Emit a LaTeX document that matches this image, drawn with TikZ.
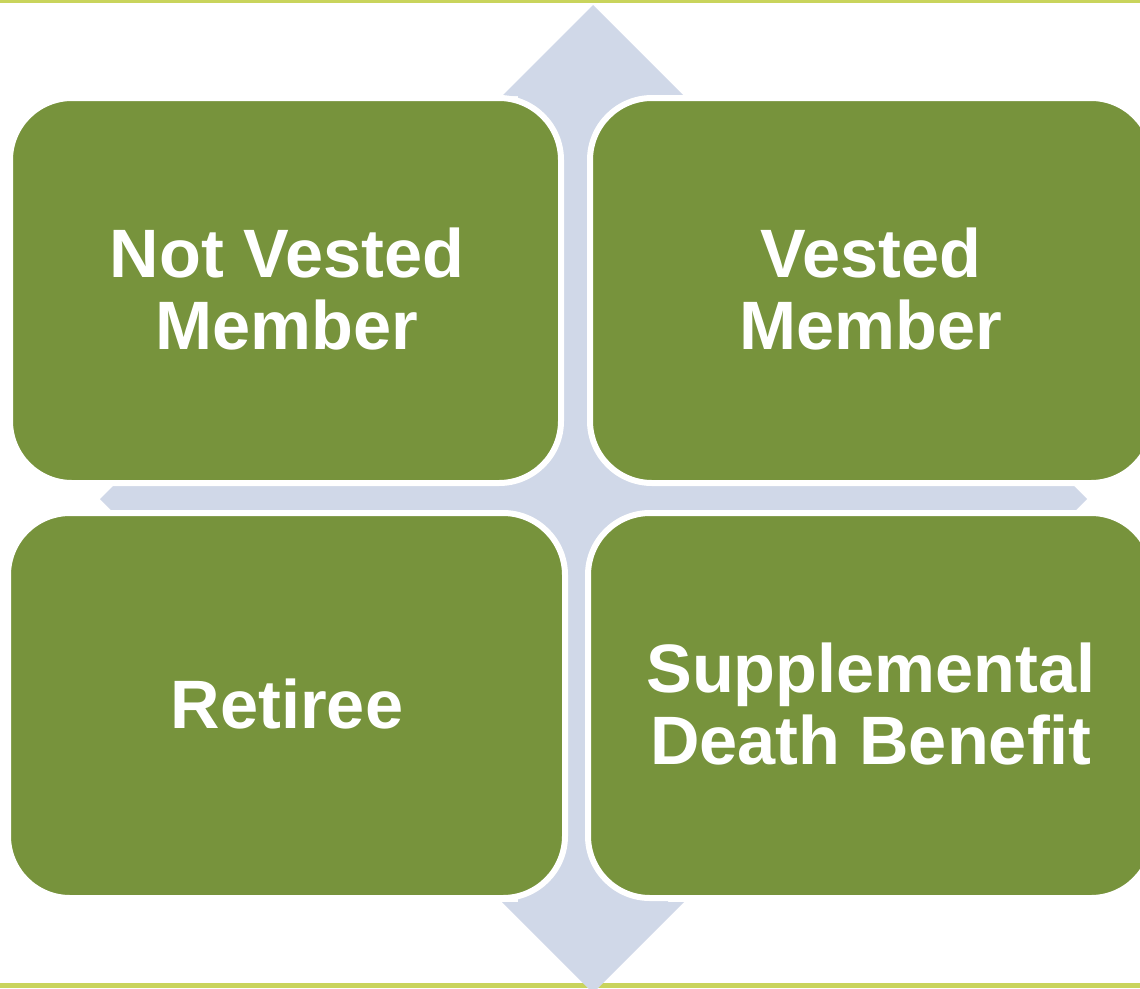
\documentclass[tikz,border=0pt]{standalone}
\usepackage{fontspec}
\setmainfont{Liberation Sans}
\definecolor{bandgreen}{HTML}{C9D45C}
\definecolor{arrowblue}{HTML}{D0D8E8}
\definecolor{boxgreen}{HTML}{77933C}
\begin{document}
\begin{tikzpicture}[x=1pt,y=-1pt,
  quadbox/.style={draw=white, line width=6pt, fill=boxgreen,
    rounded corners=62pt},
  boxlabel/.style={text=white, align=center, inner sep=0pt,
    font=\fontsize{68.5}{72.5}\selectfont\bfseries},
  band/.style={fill=bandgreen}]
\useasboundingbox (0,0) rectangle (1140,988);
\clip (0,0) rectangle (1140,988);
% thin bands along top and bottom
\fill[band] (0,0) rectangle (1140,3);
\fill[band] (0,983) rectangle (1140,988);
% vertical double arrow
\fill[arrowblue] (593,5) -- (684,96) -- (668,96) -- (668,902) -- (684,902)
  -- (593,993) -- (502,902) -- (518,902) -- (518,96) -- (502,96) -- cycle;
% horizontal double arrow
\fill[arrowblue] (100,499) -- (191,408) -- (191,424) -- (996,424) -- (996,408)
  -- (1087,499) -- (996,590) -- (996,574) -- (191,574) -- (191,590) -- cycle;
% four quadrant boxes
\draw[quadbox] (10,98) rectangle (561,483);
\draw[quadbox] (590,98) rectangle (1153,483);
\draw[quadbox] (8,513) rectangle (565,898);
\draw[quadbox] (588,513) rectangle (1153,898);
% labels
\node[boxlabel] (notvested) at (287,289) {Not Vested\\Member};
\node[boxlabel] (vested) at (871,289) {Vested\\Member};
\node[boxlabel] (retiree) at (287,704) {Retiree};
\node[boxlabel] (sdb) at (871,704) {Supplemental\\Death Benefit};
\end{tikzpicture}
\end{document}
